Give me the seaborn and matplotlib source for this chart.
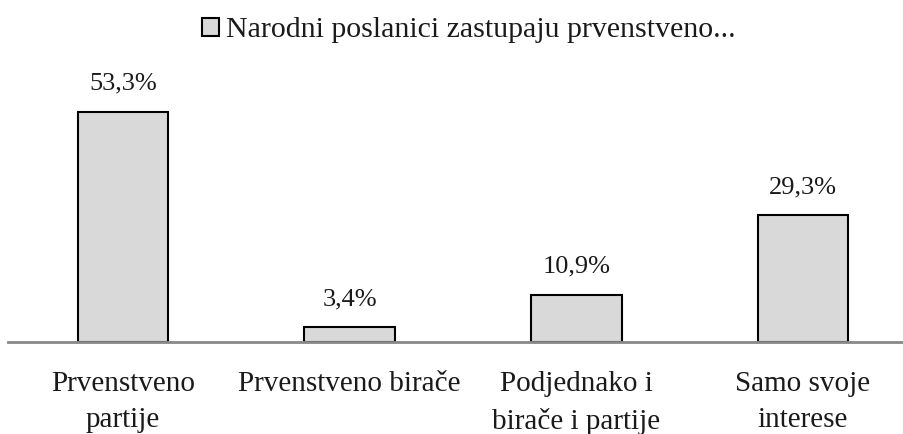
"""
Narodni poslanici zastupaju prvenstveno... (bar chart)
"""

import matplotlib
matplotlib.use("Agg")
import matplotlib.pyplot as plt
import seaborn as sns

categories = ["Prvenstveno\npartije", "Prvenstveno birače",
              "Podjednako i\nbirače i partije", "Samo svoje\ninterese"]
values = [53.3, 3.4, 10.9, 29.3]
series_name = "Narodni poslanici zastupaju prvenstveno..."

sns.set_style("white")
plt.rcParams['font.family'] = ['Liberation Serif', 'DejaVu Serif']
plt.rcParams['text.color'] = '#1a1a1a'

fig = plt.figure(figsize=(9.04, 4.34), dpi=100)
# axes: left edge at 8px, baseline at 342px, top at 70px
ax = fig.add_axes([8 / 904, 92 / 434, 896 / 904, 272 / 434])

sns.barplot(x=categories, y=values, color='#d9d9d9', width=0.4,
            edgecolor='black', linewidth=1.5, label=series_name,
            saturation=1, ax=ax)

ax.set_xlim(-0.507, 3.446)
ax.set_ylim(0, 63)

ax.bar_label(ax.containers[0],
             labels=[f"{v:.1f}%".replace('.', ',') for v in values],
             padding=12.5, fontsize=19)

for s in ['top', 'left', 'right']:
    ax.spines[s].set_visible(False)
ax.spines['bottom'].set_color('#888888')
ax.spines['bottom'].set_linewidth(2)
ax.set_yticks([])
ax.tick_params(axis='x', length=0, pad=21, labelsize=21, labelcolor='#1a1a1a')
for t in ax.get_xticklabels():
    t.set_linespacing(1.5)
ax.set_xlabel("")
ax.set_ylabel("")

fig.legend(loc='center', bbox_to_anchor=(0.519, 0.93), frameon=False,
           fontsize=21.5, handlelength=0.55, handleheight=0.55,
           handletextpad=0.25)
if ax.get_legend():
    ax.get_legend().remove()

fig.savefig("out.png", dpi=100)
